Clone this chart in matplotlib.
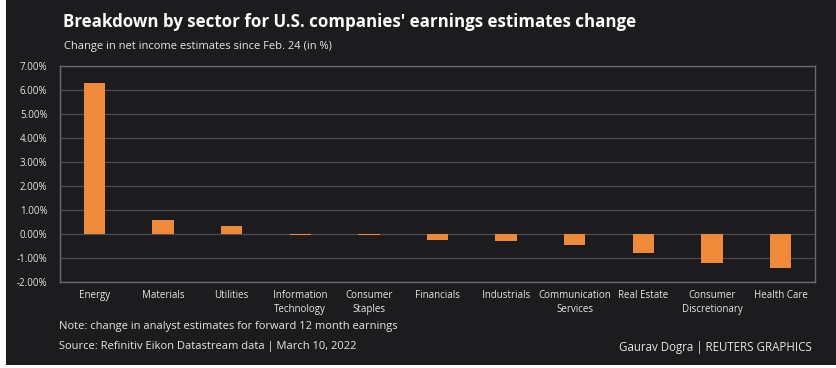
import matplotlib
matplotlib.use("Agg")
import matplotlib.pyplot as plt
from matplotlib.patches import Rectangle
from matplotlib.ticker import FuncFormatter

sectors = ["Energy", "Materials", "Utilities", "Information\nTechnology",
           "Consumer\nStaples", "Financials", "Industrials", "Communication\nServices",
           "Real Estate", "Consumer\nDiscretionary", "Health Care"]
changes = [6.3, 0.6, 0.35, -0.05, -0.05, -0.27, -0.3, -0.45, -0.78, -1.2, -1.42]
yticks = [-2, -1, 0, 1, 2, 3, 4, 5, 6, 7]

BG = "#1c1c1e"
BAR = "#ee8a3a"
GRID = "#4d4d4f"
TXT = "#e6e6e6"

plt.rcParams['font.family'] = ['Open Sans', 'DejaVu Sans']

W, H = 836, 368
fig = plt.figure(figsize=(W / 100, H / 100), dpi=100, facecolor="white")
fig.patches.append(Rectangle((6 / W, 3 / H), 1, 1, transform=fig.transFigure,
                             facecolor=BG, edgecolor="none", zorder=-10))

ax = fig.add_axes([60 / W, 1 - 282 / H, (815 - 60) / W, (282 - 66) / H])
ax.set_facecolor(BG)
x = range(len(sectors))
ax.bar(x, changes, width=0.31, color=BAR, zorder=3)

ax.set_ylim(-2, 7)
ax.set_xlim(-0.5, len(sectors) - 0.5)
ax.set_yticks(yticks)
ax.yaxis.set_major_formatter(FuncFormatter(lambda v, p: "%.2f%%" % v))
ax.set_xticks(list(x))
ax.set_xticklabels(sectors, fontsize=7, color=TXT, linespacing=1.35, va="top")
ax.tick_params(axis="y", labelsize=7, colors=TXT, length=0, pad=9)
ax.tick_params(axis="x", length=0, pad=6)
ax.grid(axis="y", color=GRID, linewidth=0.9, zorder=0)
for s in ax.spines.values():
    s.set_color("#6a6a6c")
    s.set_linewidth(1.0)

fig.text(63 / W, 1 - 22 / H,
         "Breakdown by sector for U.S. companies' earnings estimates change",
         fontsize=12.2, fontweight="bold", color="white", va="center", ha="left")
fig.text(64 / W, 1 - 47 / H, "Change in net income estimates since Feb. 24 (in %)",
         fontsize=8, color=TXT, va="center", ha="left")
fig.text(59 / W, 1 - 327 / H,
         "Note: change in analyst estimates for forward 12 month earnings",
         fontsize=8, color=TXT, va="center", ha="left")
fig.text(59 / W, 1 - 347 / H,
         "Source: Refinitiv Eikon Datastream data | March 10, 2022",
         fontsize=8, color=TXT, va="center", ha="left")
fig.text(812 / W, 1 - 347 / H, "Gaurav Dogra | REUTERS GRAPHICS",
         fontsize=8.3, color=TXT, va="center", ha="right")

fig.savefig("out.png", dpi=100, facecolor="white")
